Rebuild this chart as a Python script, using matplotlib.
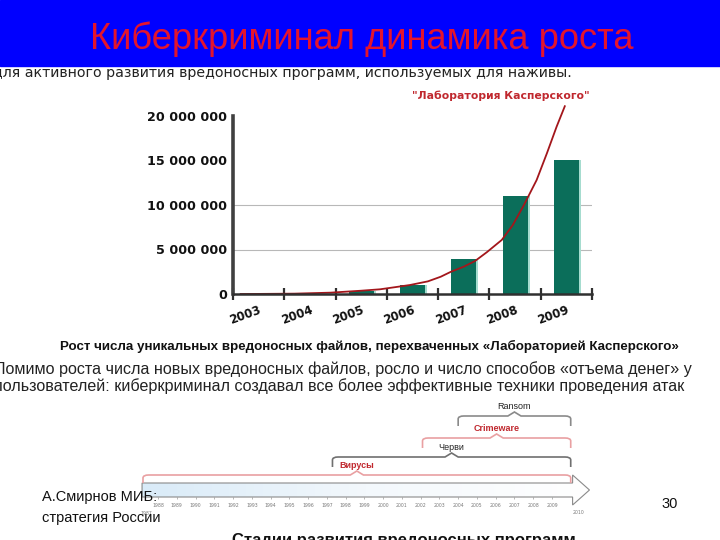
import matplotlib
matplotlib.use('Agg')
import matplotlib.pyplot as plt
import numpy as np
from matplotlib.patches import Polygon, Rectangle, PathPatch
from matplotlib.path import Path
from matplotlib.ticker import FuncFormatter
from matplotlib.colors import LinearSegmentedColormap

# ---------------- data ----------------
years = ['2003', '2004', '2005', '2006', '2007', '2008', '2009']
malware_files = [20000, 50000, 350000, 1050000, 3950000, 11000000, 15000000]
trend_x = [-0.35, 0.0, 0.7, 1.4, 2.0, 2.37, 2.7, 2.95, 3.3, 3.55, 3.75, 4.0,
           4.22, 4.45, 4.74, 4.95, 5.17, 5.42, 5.62, 5.81, 5.97]
trend_y = [0, 10000, 40000, 150000, 370000, 530000, 800000, 1010000, 1420000,
           1940000, 2500000, 3070000, 3710000, 4700000, 6070000, 7700000,
           9970000, 12800000, 15800000, 18800000, 21100000]
y_ticks = [0, 5000000, 10000000, 15000000, 20000000]
grid_values = [5000000, 10000000]

era_names = ['Вирусы', 'Черви', 'Crimeware', 'Ransom']
era_start = [1987.2, 1997.3, 2002.1, 2004.0]
era_end = [2010.0, 2010.0, 2010.0, 2010.0]
timeline_years = list(range(1988, 2010))
timeline_first = 1987
timeline_last = 2010

# ---------------- figure ----------------
W, H = 720, 540
fig = plt.figure(figsize=(7.2, 5.4), dpi=100)
fig.patch.set_facecolor('white')

bg = fig.add_axes([0, 0, 1, 1], zorder=0)
bg.set_xlim(0, W)
bg.set_ylim(H, 0)
bg.axis('off')

# title band
bg.add_patch(Rectangle((0, 0), W, 66, color='#0000ff', zorder=1))
bg.text(362, 39, 'Киберкриминал динамика роста', ha='center', va='center',
        fontsize=26.1, color='#e3142d', family='Liberation Sans', zorder=2)

bg.text(-7, 73, 'для активного развития вредоносных программ, используемых для наживы.',
        ha='left', va='center', fontsize=10.2, family='DejaVu Sans', color='#222222')

bg.text(501, 96, '"Лаборатория Касперского"', ha='center', va='center',
        fontsize=7.8, weight='bold', color='#c0282e', family='DejaVu Sans')

bg.text(60, 346, 'Рост числа уникальных вредоносных файлов, перехваченных «Лабораторией Касперского»',
        ha='left', va='center', fontsize=9.65, weight='bold', family='Liberation Sans', color='#111111')
bg.text(-6, 369, 'Помимо роста числа новых вредоносных файлов, росло и число способов «отъема денег» у',
        ha='left', va='center', fontsize=11.65, family='Liberation Sans', color='#222222')
bg.text(-6, 386, 'пользователей: киберкриминал создавал все более эффективные техники проведения атак',
        ha='left', va='center', fontsize=11.65, family='Liberation Sans', color='#222222')

# ---------------- main bar chart ----------------
ax = fig.add_axes([233 / W, 1 - 294 / H, 359 / W, (294 - 98.2) / H], zorder=3)
ax.patch.set_alpha(0)
x = np.arange(len(years))
ax.set_xlim(-0.5, len(years) - 0.5)
ax.set_ylim(0, 22000000)

for v in grid_values:
    ax.axhline(v, color='#b8b8b8', lw=0.8, zorder=0)

ax.bar(x + 0.04, malware_files, width=0.49, color='#a6dccf', zorder=1)
ax.bar(x, malware_files, width=0.49, color='#0b6e5a', zorder=2)
ax.plot(trend_x, trend_y, color='#a3161b', lw=1.3, zorder=4, clip_on=False,
        solid_joinstyle='round')

for s in ['top', 'right']:
    ax.spines[s].set_visible(False)
ax.spines['left'].set_bounds(0, 20000000)
ax.spines['left'].set_color('#404040')
ax.spines['left'].set_linewidth(2.6)
ax.spines['bottom'].set_color('#303030')
ax.spines['bottom'].set_linewidth(1.8)
ax.spines['bottom'].set_zorder(5)

ax.set_yticks(y_ticks)
ax.yaxis.set_major_formatter(FuncFormatter(lambda v, p: f'{int(v):,}'.replace(',', ' ')))
ax.tick_params(axis='y', length=0, pad=4, labelsize=9.2)
for lab in ax.get_yticklabels():
    lab.set_fontweight('bold')
    lab.set_color('#111111')

ax.set_xticks(np.arange(-0.5, len(years), 1.0))
ax.set_xticklabels([])
ax.tick_params(axis='x', which='major', direction='inout', length=8, width=1.6, color='#303030')
ax.set_xticks(x, minor=True)
ax.set_xticklabels(years, minor=True, rotation=20, ha='right', rotation_mode='anchor',
                   fontsize=8.5, fontweight='bold', color='#111111')
ax.tick_params(axis='x', which='minor', length=0, pad=7)

# ---------------- timeline ----------------
def yr(px):
    return 1988 + (px - 158) / 18.76

tl = fig.add_axes([130 / W, 1 - 530 / H, 470 / W, 130 / H], zorder=2)
tl.set_xlim(yr(130), yr(600))
tl.set_ylim(530, 400)
tl.axis('off')

x0, x1, tip = era_start[0] - 0.05, era_end[0] + 0.1, era_end[0] + 1.0
arrow_pts = [(x0, 483), (x1, 483), (x1, 475), (tip, 490), (x1, 505), (x1, 497), (x0, 497)]
arrow = Polygon(arrow_pts, closed=True, facecolor='none', edgecolor='#8a8a8a', lw=0.8, zorder=3)
tl.add_patch(arrow)
grad = np.linspace(0, 1, 256).reshape(1, -1)
cmap = LinearSegmentedColormap.from_list('g', ['#d9ebf8', '#f3f8fc', '#ffffff'])
im = tl.imshow(grad, extent=[x0, tip, 505, 475], aspect='auto', cmap=cmap, zorder=2)
im.set_clip_path(Polygon(arrow_pts, closed=True, transform=tl.transData))

tl.vlines(timeline_years, 497, 499.5, color='#999999', lw=0.5)
for yv in timeline_years:
    tl.text(yv, 506, str(yv), ha='center', va='center', fontsize=3.3, color='#7a7a7a')
tl.text(timeline_first + 0.4, 514, str(timeline_first), ha='center', va='center', fontsize=3.3, color='#7a7a7a')
tl.text(timeline_last + 0.4, 513, str(timeline_last), ha='center', va='center', fontsize=3.3, color='#7a7a7a')

levels = [475, 457, 438, 416]
line_colors = ['#e9a0a2', '#707070', '#e9a0a2', '#8a8a8a']
label_colors = ['#c0282e', '#222222', '#c0282e', '#222222']
label_weights = ['bold', 'normal', 'bold', 'normal']
drops = [8, 10, 10, 10]
for name, s, e, lev, lc, tc, w, dr in zip(era_names, era_start, era_end, levels,
                                          line_colors, label_colors, label_weights, drops):
    mid = (s + e) / 2
    verts = [(s, lev + dr), (s, lev + 3), (s, lev), (s + 0.3, lev),
             (mid - 0.35, lev), (mid, lev - 4), (mid + 0.35, lev),
             (e - 0.3, lev), (e, lev), (e, lev + 3), (e, lev + dr)]
    codes = [Path.MOVETO, Path.LINETO, Path.CURVE3, Path.CURVE3,
             Path.LINETO, Path.LINETO, Path.LINETO,
             Path.LINETO, Path.CURVE3, Path.CURVE3, Path.LINETO]
    tl.add_patch(PathPatch(Path(verts, codes), facecolor='none', edgecolor=lc, lw=1.2, zorder=4))
    tl.text(mid, lev - 9.5, name, ha='center', va='center', fontsize=6.5,
            color=tc, weight=w, family='Liberation Sans')

# ---------------- footer ----------------
ft = fig.add_axes([0, 0, 1, 1], zorder=6)
ft.set_xlim(0, W)
ft.set_ylim(H, 0)
ft.axis('off')
ft.text(42, 501, 'А.Смирнов МИБ:', ha='left', va='baseline', fontsize=10.5,
        family='Liberation Sans', color='#111111')
ft.text(42, 522, 'стратегия России', ha='left', va='baseline', fontsize=10.5,
        family='Liberation Sans', color='#111111')
ft.text(670, 508, '30', ha='center', va='baseline', fontsize=10.5,
        family='Liberation Sans', color='#111111')
ft.text(232, 533, 'Стадии развития вредоносных программ', ha='left', va='top',
        fontsize=12, weight='bold', family='Liberation Sans', color='#111111')

fig.savefig('out.png', dpi=100)
